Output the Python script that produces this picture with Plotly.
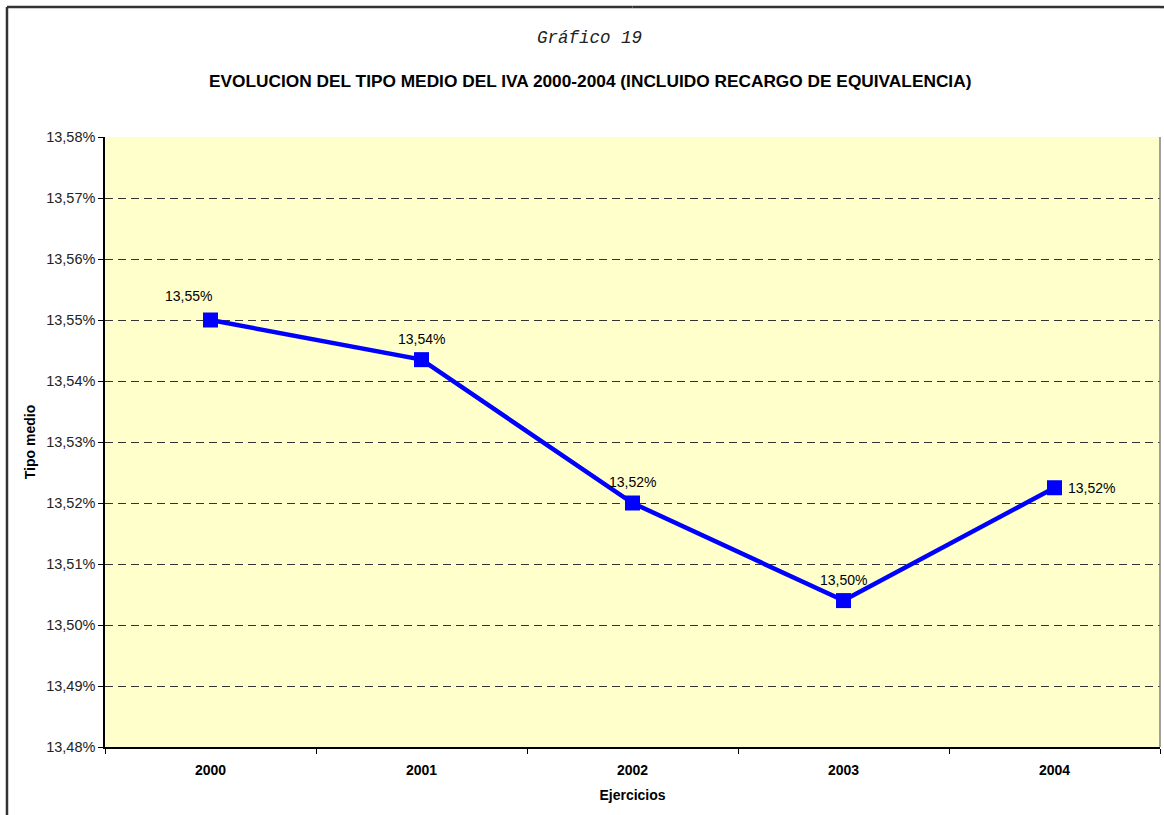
import plotly.graph_objects as go

years = ["2000", "2001", "2002", "2003", "2004"]
tipo_medio = [0.13550, 0.135435, 0.13520, 0.13504, 0.135225]
y_ticks = [0.1348, 0.1349, 0.1350, 0.1351, 0.1352, 0.1353, 0.1354, 0.1355, 0.1356, 0.1357, 0.1358]

FONT = "Liberation Sans, Arial, sans-serif"

fig = go.Figure()
fig.add_trace(go.Scatter(
    x=years, y=tipo_medio, mode="lines+markers",
    line=dict(color="#0000FF", width=4.5),
    marker=dict(symbol="square", size=15, color="#0000FF"),
    showlegend=False, cliponaxis=False,
))
# data labels
for i, v in enumerate(tipo_medio):
    txt = f"{v*100:.2f}%".replace(".", ",")
    if i == len(tipo_medio) - 1:
        fig.add_annotation(x=i, y=v, text=txt, showarrow=False, xanchor="left",
                           xshift=11, font=dict(family=FONT, size=14, color="#000"))
    else:
        fig.add_annotation(x=i, y=v, text=txt, showarrow=False, yanchor="middle",
                           yshift=24 if i == 0 else 21, xshift=-22 if i == 0 else 0,
                           font=dict(family=FONT, size=14, color="#000"))

fig.add_annotation(xref="paper", yref="paper", x=0.4597, y=1.1623, text="<i>Gráfico 19</i>",
                   showarrow=False, yanchor="middle",
                   font=dict(family="Liberation Mono, Courier New, monospace", size=17.5, color="#222"))
fig.add_annotation(xref="paper", yref="paper", x=0.4597, y=1.0918, yanchor="middle",
                   text="<b>EVOLUCION DEL TIPO MEDIO DEL IVA 2000-2004 (INCLUIDO RECARGO DE EQUIVALENCIA)</b>",
                   showarrow=False, font=dict(family=FONT, size=17.3, color="#000"))

# outer chart-area frame (left and top edges)
FRAME = dict(color="#333333", width=2.5)
TOP = 1.213
fig.add_shape(type="line", xref="paper", yref="paper", x0=-0.0929, x1=-0.0929, y0=-0.2, y1=TOP,
              line=FRAME)
for xa, xb in [(-0.0929, 0.0), (0.0, 0.5), (0.5, 1.0), (1.0, 1.0038)]:
    fig.add_shape(type="line", xref="paper", yref="paper", x0=xa, x1=xb, y0=TOP, y1=TOP,
                  line=FRAME)
# plot right border
fig.add_shape(type="line", xref="paper", yref="paper", x0=1, x1=1, y0=0, y1=1,
              line=dict(color="#808080", width=1.5))

fig.update_layout(
    width=1164, height=815,
    margin=dict(l=105, r=4, t=137, b=68),
    paper_bgcolor="#FFFFFF", plot_bgcolor="#FFFFCC",
    separators=",.",
    font=dict(family=FONT, size=14.5, color="#000"),
    xaxis=dict(
        type="category", tickson="boundaries", ticks="outside", ticklen=5, tickcolor="#000",
        showline=True, linecolor="#000", linewidth=1.5, showgrid=False,
        tickfont=dict(size=14, family=FONT),
        tickprefix="<b>", ticksuffix="</b>",
        ticklabelstandoff=9,
        title=dict(text="<b>Ejercicios</b>", font=dict(size=14), standoff=14),
        range=[-0.5, 4.5],
    ),
    yaxis=dict(
        range=[0.1348, 0.1358], tickvals=y_ticks, tickformat=".2%",
        ticks="outside", ticklen=5, tickcolor="#000",
        tickfont=dict(size=14.5, family=FONT, color="#222"),
        showline=True, linecolor="#000", linewidth=1.5,
        showgrid=True, gridcolor="#333333", griddash="8px,5px", gridwidth=1,
        zeroline=False,
        title=dict(text="<b>Tipo medio</b>", font=dict(size=14), standoff=7),
    ),
)

fig.write_html("out.html", config={"displayModeBar": False},
               post_script="document.body.style.margin='0';")
